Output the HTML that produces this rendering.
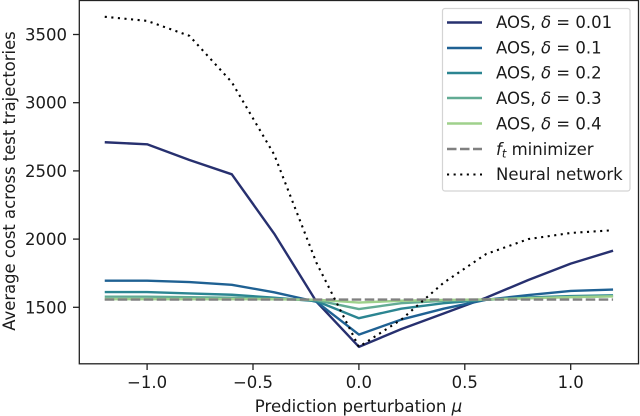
<!DOCTYPE html>
<html lang="en">
<head>
<meta charset="utf-8">
<title>Average cost vs prediction perturbation</title>
<style>
html,body{margin:0;padding:0;background:#fff;width:640px;height:416px;overflow:hidden}
svg{display:block;font-family:"DejaVu Sans","Liberation Sans",sans-serif;fill:#1a1a1a;filter:blur(0.35px)}
</style>
</head>
<body>
<svg id="chart" width="640" height="416" viewBox="0 0 640 416" xmlns="http://www.w3.org/2000/svg">
  <g id="marks"></g>
  <g id="xticks"></g>
  <g id="yticks"></g>
  <rect x="79.3" y="0.5" width="559.2" height="363.3" fill="none" stroke="#222" stroke-width="1.3"/>
  <text x="358.5" y="412" font-size="16.6" text-anchor="middle">Prediction perturbation <tspan font-style="italic">μ</tspan></text>
  <text transform="translate(15 181) rotate(-90)" font-size="16.4" text-anchor="middle">Average cost across test trajectories</text>
  <g>
    <rect x="442.5" y="8.5" width="187.5" height="182.5" rx="2.5" fill="#fff" fill-opacity="0.85" stroke="#d4d4d4" stroke-width="1.2"/>
    <g>
      <line x1="447" x2="482" y1="22.5" y2="22.5" stroke="#27306f" stroke-width="2.4"/>
      <text x="496" y="28" font-size="16.5">AOS, <tspan font-style="italic">δ</tspan> = 0.01</text>
    </g>
    <g>
      <line x1="447" x2="482" y1="48" y2="48" stroke="#1f6193" stroke-width="2.4"/>
      <text x="496" y="53.5" font-size="16.5">AOS, <tspan font-style="italic">δ</tspan> = 0.1</text>
    </g>
    <g>
      <line x1="447" x2="482" y1="73" y2="73" stroke="#2b8591" stroke-width="2.4"/>
      <text x="496" y="78.5" font-size="16.5">AOS, <tspan font-style="italic">δ</tspan> = 0.2</text>
    </g>
    <g>
      <line x1="447" x2="482" y1="98" y2="98" stroke="#62ab94" stroke-width="2.4"/>
      <text x="496" y="104" font-size="16.5">AOS, <tspan font-style="italic">δ</tspan> = 0.3</text>
    </g>
    <g>
      <line x1="447" x2="482" y1="123.5" y2="123.5" stroke="#9fd18c" stroke-width="2.4"/>
      <text x="496" y="129.5" font-size="16.5">AOS, <tspan font-style="italic">δ</tspan> = 0.4</text>
    </g>
    <g>
      <line x1="447" x2="482" y1="149" y2="149" stroke="#808080" stroke-width="2.4" stroke-dasharray="9.5 3.5"/>
      <text x="496" y="155" font-size="16.5"><tspan font-style="italic">f</tspan><tspan font-style="italic" font-size="11.5" dy="2.5">t</tspan><tspan dy="-2.5"> minimizer</tspan></text>
    </g>
    <g>
      <line x1="447" x2="482" y1="174.5" y2="174.5" stroke="#000" stroke-width="2.1" stroke-dasharray="2.1 4.5"/>
      <text x="496" y="180" font-size="16.5">Neural network</text>
    </g>
  </g>
</svg>
<script>
const perturbations = [-1.2, -1.0, -0.8, -0.6, -0.4, -0.2, 0, 0.2, 0.4, 0.6, 0.8, 1.0, 1.2];
const delta001 = [2710, 2695, 2580, 2475, 2040, 1540, 1210, 1340, 1455, 1570, 1700, 1820, 1915];
const delta01 = [1695, 1695, 1685, 1665, 1610, 1540, 1300, 1410, 1490, 1555, 1590, 1620, 1630];
const delta02 = [1612, 1612, 1602, 1592, 1570, 1545, 1420, 1490, 1530, 1555, 1572, 1582, 1588];
const delta03 = [1578, 1578, 1574, 1570, 1562, 1552, 1487, 1530, 1548, 1556, 1568, 1576, 1582];
const delta04 = [1560, 1560, 1560, 1560, 1559, 1556, 1535, 1548, 1554, 1558, 1566, 1574, 1580];
const minimizer = [1557, 1557, 1557, 1557, 1557, 1557, 1557, 1557, 1557, 1557, 1557, 1557, 1557];
const neural = [3630, 3600, 3490, 3150, 2620, 1825, 1210, 1410, 1680, 1890, 2000, 2045, 2065];
const xTickValues = [-1.0, -0.5, 0, 0.5, 1.0];
const xTickLabels = ["−1.0", "−0.5", "0.0", "0.5", "1.0"];
const yTickValues = [1500, 2000, 2500, 3000, 3500];
const yTickLabels = ["1500", "2000", "2500", "3000", "3500"];

const NS = "http://www.w3.org/2000/svg";
function xScale(v) { return 358.9 + v * 211.8; }
function yScale(v) { return 307.3 - (v - 1500) * 0.1364; }

function drawSeries(values, name, color, dash, width) {
  const p = document.createElementNS(NS, "polyline");
  
  
  p.setAttribute("points", values.map((v, i) => xScale(perturbations[i]).toFixed(2) + "," + yScale(v).toFixed(2)).join(" "));
  p.setAttribute("fill", "none");
  p.setAttribute("stroke", color);
  p.setAttribute("stroke-width", width);
  p.setAttribute("stroke-linejoin", "round");
  if (dash) p.setAttribute("stroke-dasharray", dash);
  document.getElementById("marks").appendChild(p);
}

drawSeries(delta001, "line-delta-001", "#27306f", "", "2.4");
drawSeries(delta01, "line-delta-01", "#1f6193", "", "2.4");
drawSeries(delta02, "line-delta-02", "#2b8591", "", "2.4");
drawSeries(delta03, "line-delta-03", "#62ab94", "", "2.4");
drawSeries(delta04, "line-delta-04", "#9fd18c", "", "2.4");
drawSeries(minimizer, "line-ft-minimizer", "#808080", "9.5 3.5", "2.4");
drawSeries(neural, "line-neural-network", "#000", "2.1 4.5", "2.1");

xTickValues.forEach((v, i) => {
  const g = document.getElementById("xticks");
  const t = document.createElementNS(NS, "line");
  
  
  t.setAttribute("x1", xScale(v));
  t.setAttribute("x2", xScale(v));
  t.setAttribute("y1", 364);
  t.setAttribute("y2", 370);
  t.setAttribute("stroke", "#222");
  t.setAttribute("stroke-width", "1.3");
  g.appendChild(t);
  const l = document.createElementNS(NS, "text");
  
  
  l.setAttribute("x", xScale(v));
  l.setAttribute("y", 388);
  l.setAttribute("font-size", "16.5");
  l.setAttribute("text-anchor", "middle");
  l.textContent = xTickLabels[i];
  g.appendChild(l);
});

yTickValues.forEach((v, i) => {
  const g = document.getElementById("yticks");
  const t = document.createElementNS(NS, "line");
  
  
  t.setAttribute("x1", 73);
  t.setAttribute("x2", 79);
  t.setAttribute("y1", yScale(v));
  t.setAttribute("y2", yScale(v));
  t.setAttribute("stroke", "#222");
  t.setAttribute("stroke-width", "1.3");
  g.appendChild(t);
  const l = document.createElementNS(NS, "text");
  
  
  l.setAttribute("x", 67);
  l.setAttribute("y", yScale(v) + 6);
  l.setAttribute("font-size", "16.5");
  l.setAttribute("text-anchor", "end");
  l.textContent = yTickLabels[i];
  g.appendChild(l);
});
</script>
</body>
</html>
